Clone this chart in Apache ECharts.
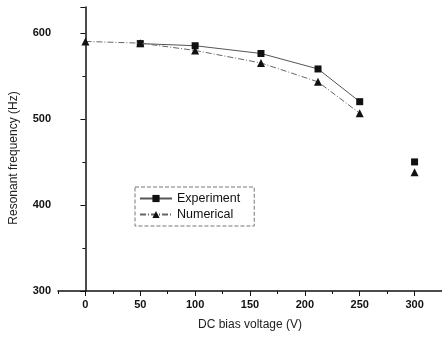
<!DOCTYPE html>
<html>
<head>
<meta charset="utf-8">
<script src="https://cdn.jsdelivr.net/npm/echarts@6/dist/echarts.min.js"></script>
<style>
  html, body { margin: 0; padding: 0; background: #fff; }
  #chart { width: 442px; height: 337px; }
</style>
</head>
<body>
<div id="chart"></div>
<script>
// DC bias voltage (V)
const expVoltage = [50, 100, 160, 212, 250];
const experiment = [587.5, 585, 576, 558, 520];
const numVoltage = [0, 50, 100, 160, 212, 250];
const numerical = [590, 588, 579.5, 565, 543, 506.5];
// isolated points at 300 V (not connected)
const lastVoltage = 300;
const lastExperiment = 450;
const lastNumerical = 438;

const xMajorTicks = [0, 50, 100, 150, 200, 250, 300];
const xMinorTicks = [-25, 25, 75, 125, 175, 225, 275, 325];

const pair = (xs, ys) => xs.map((x, i) => [x, ys[i]]);

const chart = echarts.init(document.getElementById('chart'));

const font = 'Liberation Sans, Arial, sans-serif';

const option = {
  backgroundColor: '#fff',
  animation: false,
  grid: { left: 55, right: 0, top: 7, bottom: 46 },
  legend: {
    orient: 'vertical',
    left: 135,
    top: 187,
    itemWidth: 32,
    itemHeight: 9,
    itemGap: 3,
    padding: [5, 14, 5, 4],
    borderColor: '#777',
    borderWidth: 1,
    borderType: 'dashed',
    textStyle: { fontFamily: font, fontSize: 12.5, color: '#111' },
    data: ['Experiment', 'Numerical']
  },
  xAxis: [
    {
      type: 'value',
      min: -25,
      max: 325,
      name: 'DC bias voltage (V)',
      nameLocation: 'middle',
      nameGap: 28,
      nameTextStyle: { fontFamily: font, fontSize: 12, color: '#222' },
      axisLine: { lineStyle: { color: '#111', width: 1.5 } },
      axisTick: { customValues: xMajorTicks, length: 5, lineStyle: { color: '#111' } },
      axisLabel: { customValues: xMajorTicks, fontFamily: font, fontSize: 11, fontWeight: 'bold', color: '#111', margin: 8 },
      splitLine: { show: false }
    },
    {
      type: 'value',
      min: -25,
      max: 325,
      position: 'bottom',
      axisLine: { show: false },
      axisTick: { customValues: xMinorTicks, length: 3, lineStyle: { color: '#111' } },
      axisLabel: { show: false },
      splitLine: { show: false }
    }
  ],
  yAxis: {
    type: 'value',
    min: 300,
    max: 630,
    interval: 100,
    name: 'Resonant frequency (Hz)',
    nameLocation: 'middle',
    nameGap: 38,
    nameTextStyle: { fontFamily: font, fontSize: 12, color: '#222', padding: [0, 0, 0, -18] },
    axisLine: { show: true, lineStyle: { color: '#111', width: 1.5 } },
    axisTick: { show: true, length: 5, lineStyle: { color: '#111' } },
    minorTick: { show: true, splitNumber: 2, length: 3, lineStyle: { color: '#111' } },
    axisLabel: { fontFamily: font, fontSize: 11, fontWeight: 'bold', color: '#111', margin: 7, showMaxLabel: false },
    splitLine: { show: false }
  },
  series: [
    {
      name: 'Experiment',
      type: 'line',
      data: pair(expVoltage, experiment),
      symbol: 'rect',
      symbolSize: 7,
      itemStyle: { color: '#111', opacity: 1 },
      lineStyle: { color: '#555', width: 1 },
      z: 3
    },
    {
      name: 'Numerical',
      type: 'line',
      data: pair(numVoltage, numerical),
      symbol: 'triangle',
      symbolSize: 8,
      itemStyle: { color: '#111', opacity: 1 },
      lineStyle: { color: '#666', width: 1, type: [6, 2, 1, 2] },
      z: 4
    },
    {
      name: 'Experiment300',
      type: 'scatter',
      data: [[lastVoltage, lastExperiment]],
      symbol: 'rect',
      symbolSize: 7,
      itemStyle: { color: '#111', opacity: 1 }
    },
    {
      name: 'Numerical300',
      type: 'scatter',
      data: [[lastVoltage, lastNumerical]],
      symbol: 'triangle',
      symbolSize: 8,
      itemStyle: { color: '#111', opacity: 1 }
    }
  ]
};

chart.setOption(option);
</script>
</body>
</html>
